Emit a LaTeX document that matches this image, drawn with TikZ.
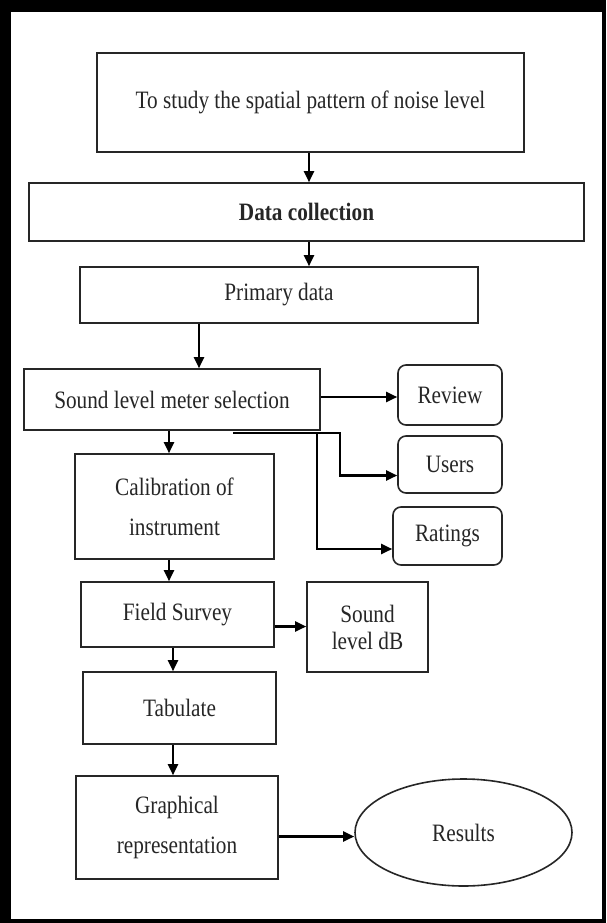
\documentclass[tikz,border=0pt]{standalone}
\usepackage{fontspec}
\setmainfont{Liberation Serif}[FakeStretch=0.85]
\usetikzlibrary{arrows.meta,shapes.geometric,positioning}
\tikzset{
  box/.style={draw=black!85, line width=1.6pt, inner sep=0pt, align=center, text=black!85},
  rbox/.style={box, rounded corners=8pt},
  arr/.style={line width=2.2pt, -{Triangle[length=11pt,width=10pt]}},
}
\newcommand{\boxfont}{\fontsize{25}{40}\selectfont}

\begin{document}
\begin{tikzpicture}[x=1pt, y=-1pt, font=\boxfont]
% frame
\fill[black] (0,0) rectangle (606,923);
\fill[white] (11,12) rectangle (602,919);
\useasboundingbox (0,0) rectangle (606,923);

% main column
\node[box, minimum width=427, minimum height=99] (aim) at (310.5,102.5) {To study the spatial pattern of noise level};
\node[box, minimum width=555, minimum height=58] (collect) at (306.5,212) {\textbf{Data collection}};
\node[box, minimum width=398, minimum height=56] (primary) at (279,295) {Primary data};
\node[box, minimum width=296, minimum height=61] (meter) at (172,399.5) {Sound level meter selection};
\node[box, minimum width=199, minimum height=105] (calib) at (174.5,506.5) {Calibration of\\instrument};
\node[box, minimum width=193, minimum height=65] (survey) at (177.5,614.5) {Field Survey};
\node[box, minimum width=193, minimum height=72] (tab) at (179.5,708) {Tabulate};
\node[box, minimum width=202, minimum height=103] (graph) at (177,827.5) {Graphical\\representation};

% side boxes
\node[rbox, minimum width=104, minimum height=60] (review) at (450,395) {Review};
\node[rbox, minimum width=104, minimum height=57] (users) at (450,464.5) {Users};
\node[rbox, minimum width=109, minimum height=58] (ratings) at (447.5,536) {Ratings};
\node[box, minimum width=121, minimum height=90, font=\fontsize{25}{27}\selectfont] (db) at (367.5,627) {Sound\\level dB};
\node[box, ellipse, minimum width=217, minimum height=107] (results) at (463.5,832.5) {Results};

% connectors
\draw[arr] ([xshift=-1.5pt]aim.south) -- ([xshift=-1.5pt]aim.south |- collect.north);
\draw[arr] ([xshift=-1.5pt]aim.south |- collect.south) -- ([xshift=-1.5pt]aim.south |- primary.north);
\draw[arr] ([xshift=-80pt]primary.south) -- ([xshift=-80pt]primary.south |- meter.north);
\draw[arr] ([xshift=-3pt]meter.south) -- ([xshift=-3pt]meter.south |- calib.north);
\draw[arr] ([yshift=-2pt]review.west -| meter.east) -- ([yshift=-2pt]review.west);
\draw[arr] ([xshift=61pt,yshift=-2pt]meter.south) -- ++(107,0) |- ([yshift=-11pt]users.west);
\draw[arr] ([xshift=145pt,yshift=-2pt]meter.south) |- ([yshift=-13pt]ratings.west);
\draw[arr] ([xshift=-5.5pt]calib.south) -- ([xshift=-5.5pt]calib.south |- survey.north);
\draw[arr] ([yshift=-12pt]survey.east) -- ([yshift=-12pt]survey.east -| db.west);
\draw[arr] ([xshift=-4.5pt]survey.south) -- ([xshift=-4.5pt]survey.south |- tab.north);
\draw[arr] ([xshift=-6.5pt]tab.south) -- ([xshift=-6.5pt]tab.south |- graph.north);
\draw[arr] ([yshift=-9pt]graph.east) -- ([yshift=-9pt]graph.east -| results.west);
\end{tikzpicture}
\end{document}
